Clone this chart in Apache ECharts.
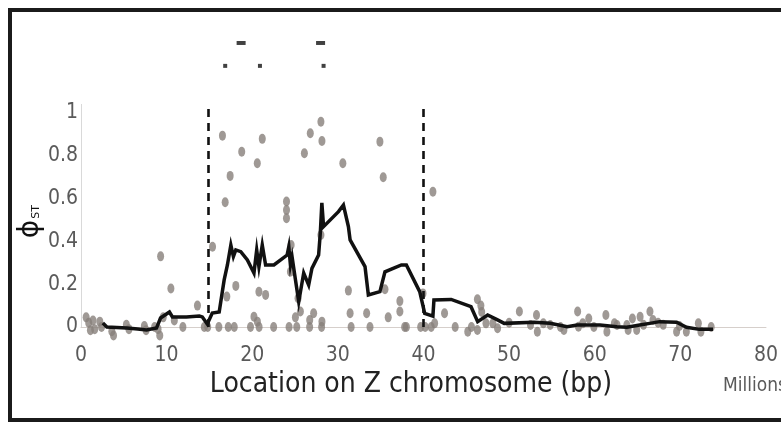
<!DOCTYPE html>
<html>
<head>
<meta charset="utf-8">
<script src="https://cdn.jsdelivr.net/npm/echarts@6/dist/echarts.min.js"></script>
<style>
html,body{margin:0;padding:0;background:#fff;}
#chart{width:781px;height:422px;}
</style>
</head>
<body>
<div id="chart"></div>
<script>
// x-axis ticks (Millions of bp)
const xMin = 0, xMax = 80, xStep = 10;
// y-axis ticks
const yMin = 0, yMax = 1.04, yStep = 0.2;

// per-SNP PhiST values [position (Mb), PhiST]
const snpPoints = [
  [0.6,0.045],[0.9,0.02],[1.1,-0.015],[1.4,0.03],[1.6,-0.01],[2.2,0.025],[2.4,0.0],
  [3.6,-0.02],[3.8,-0.04],[5.3,0.01],[5.6,-0.01],[7.4,0.005],[7.6,-0.015],[8.6,0.0],
  [9.0,-0.01],[9.2,-0.04],[9.6,0.045],[9.3,0.33],[10.5,0.18],[10.9,0.03],[11.9,0.0],
  [13.6,0.1],[14.4,0.0],
  [15.36,0.375],[14.8,0.0],[16.1,0.0],[16.52,0.894],[17.42,0.706],[16.84,0.583],
  [17.03,0.142],[17.2,0.0],[17.9,0.0],[18.08,0.192],[18.77,0.819],[19.8,0.0],
  [20.2,0.048],[20.59,0.765],[20.6,0.025],[20.78,0.165],[20.8,0.0],[21.17,0.879],
  [21.56,0.15],[22.5,0.0],[24.0,0.586],[24.0,0.547],[24.0,0.508],[24.54,0.383],
  [24.46,0.258],[24.3,0.0],[25.04,0.045],[25.2,0.0],[25.35,0.134],[25.62,0.072],
  [26.09,0.812],[26.71,0.033],[26.7,0.0],[26.78,0.905],[27.17,0.064],[28.02,0.959],
  [28.14,0.869],[28.02,0.43],[28.14,0.025],[28.1,0.0],[30.58,0.765],
  [31.23,0.17],[31.43,0.064],[31.55,0.0],[33.36,0.064],[33.75,0.0],[34.91,0.866],
  [35.3,0.70],[35.5,0.176],[35.88,0.045],[37.24,0.121],[37.24,0.072],[37.8,0.0],
  [38.0,0.0],[39.67,0.0],[39.94,0.157],[40.2,0.0],[40.9,0.0],[41.1,0.632],[41.3,0.017],
  [42.46,0.064],[43.7,0.0],[45.17,-0.022],[45.6,0.0],[46.3,0.13],[46.7,0.10],
  [46.8,0.07],[46.3,-0.014],[47.3,0.017],[48.1,0.017],[48.65,-0.006],
  [50.0,0.02],[51.2,0.072],[52.5,0.009],[53.2,0.056],[53.3,-0.022],[54.0,0.017],
  [54.8,0.009],[56.0,0.0],[56.4,-0.014],[58.0,0.072],[58.1,0.001],[58.6,0.017],
  [59.3,0.04],[59.9,0.0],[61.3,0.056],[61.42,-0.022],[62.3,0.017],[62.6,0.009],
  [63.75,0.009],[63.9,-0.014],[64.4,0.04],[64.9,-0.014],[65.3,0.048],[65.7,0.01],
  [66.45,0.072],[66.8,0.033],[67.4,0.02],[68.0,0.01],[69.56,-0.022],[69.9,0.005],
  [70.7,-0.022],[72.1,0.017],[72.4,-0.022],[73.6,0.0]
];

// sliding-window average [position (Mb), PhiST]
const avgLine = [
  [2.55,0.019],[3.02,0.0],[5.34,-0.005],[6.62,-0.009],[7.66,-0.014],[8.82,-0.005],
  [9.29,0.042],[10.33,0.070],[10.68,0.047],[12.31,0.047],[13.82,0.051],[14.17,0.047],
  [14.75,0.014],[15.33,0.065],[16.14,0.070],[16.72,0.22],[17.10,0.29],[17.50,0.383],
  [17.80,0.329],[18.08,0.36],[18.66,0.352],[19.43,0.313],[20.20,0.252],[20.52,0.36],
  [20.78,0.282],[21.17,0.383],[21.56,0.29],[22.53,0.29],[24.07,0.336],[24.27,0.375],
  [24.46,0.29],[24.65,0.328],[25.05,0.22],[25.43,0.118],[26.01,0.252],[26.59,0.196],
  [26.97,0.274],[27.75,0.336],[27.95,0.44],[28.13,0.58],[28.33,0.469],[30.07,0.539],
  [30.65,0.570],[31.23,0.469],[31.43,0.407],[33.17,0.282],[33.56,0.150],[34.91,0.165],
  [35.50,0.258],[36.46,0.274],[37.42,0.29],[38.0,0.29],[39.56,0.165],[40.14,0.064],
  [41.10,0.051],[41.22,0.126],[43.23,0.129],[45.55,0.095],[46.33,0.025],[47.49,0.056],
  [48.65,0.033],[49.43,0.017],[52.91,0.022],[54.80,0.017],[56.78,0.001],[57.94,0.009],
  [60.61,0.009],[62.59,0.001],[63.75,-0.001],[65.26,0.009],[66.42,0.017],[67.58,0.025],
  [69.56,0.022],[70.72,-0.001],[72.22,-0.011],[73.81,-0.011]
];

// boundaries of the differentiated region (Mb)
const boundaries = [14.85, 40.0];
const boundaryTop = 1.04;

// significance markers above the plot
const sigDashes = [[18.7,1.327],[27.98,1.327]];
const sigDots = [[16.84,1.22],[20.9,1.22],[28.33,1.22]];

const labelFont = "'Liberation Sans Narrow','DejaVu Sans Condensed',sans-serif";

const chart = echarts.init(document.getElementById('chart'), null, {renderer:'canvas'});
chart.setOption({
  animation: false,
  backgroundColor: '#ffffff',
  grid: {left: 81, right: 11, top: 104.4, bottom: 95, containLabel: false},
  xAxis: {
    type: 'value', min: xMin, max: xMax, interval: xStep,
    splitLine: {show: false},
    axisTick: {show: false},
    axisLine: {show: true, lineStyle: {color: '#d6cfcb', width: 1}},
    axisLabel: {fontFamily: labelFont, fontSize: 21, color: '#5a5a5a', margin: 18},
    name: 'Location on Z chromosome (bp)',
    nameLocation: 'middle',
    nameGap: 44,
    nameMoveOverlap: false,
    nameTextStyle: {fontFamily: labelFont, fontSize: 28, color: '#222', padding: [0, 25, 0, 0]}
  },
  yAxis: {
    type: 'value', min: yMin, max: yMax, interval: yStep,
    splitLine: {show: false},
    axisTick: {show: false},
    axisLine: {show: true, lineStyle: {color: '#d9d9d9', width: 1}},
    axisLabel: {
      fontFamily: labelFont, fontSize: 21, color: '#5a5a5a', margin: 3,
      formatter: function (v) {
        const k = v / yStep;
        return Math.abs(k - Math.round(k)) < 1e-6 ? String(Math.round(v * 10) / 10) : '';
      }
    },
    name: '{a|ϕ}{b|ST}',
    nameLocation: 'middle',
    nameGap: 36,
    nameRotate: 90,
    nameMoveOverlap: false,
    nameTextStyle: {
      color: '#111',
      padding: [0, 12, 0, 0],
      rich: {
        a: {fontFamily: 'DejaVu Sans', fontSize: 28, color: '#111'},
        b: {fontFamily: 'DejaVu Sans', fontSize: 11, color: '#111', padding: [10, 0, 0, 1]}
      }
    }
  },
  graphic: [
    {type: 'rect', shape: {x: 10, y: 10, width: 800, height: 410}, style: {fill: 'none', stroke: '#1b1b1b', lineWidth: 4}, z: 100},
    {type: 'text', left: 723, top: 377, style: {text: 'Millions', fontFamily: labelFont, fontSize: 19, fill: '#5a5a5a'}}
  ],
  series: [
    {
      type: 'scatter',
      data: snpPoints,
      clip: false,
      symbol: 'circle',
      symbolSize: [7, 10],
      itemStyle: {color: '#877f7a'},
      z: 2,
      markLine: {
        silent: true,
        symbol: 'none',
        label: {show: false},
        lineStyle: {color: '#111', width: 2.6, type: [8, 6]},
        data: boundaries.map(b => [{coord: [b, 0]}, {coord: [b, boundaryTop]}])
      }
    },
    {
      type: 'line',
      data: avgLine,
      clip: false,
      showSymbol: false,
      symbol: 'none',
      lineStyle: {color: '#111', width: 3.5, join: 'miter'},
      z: 3
    },
    {
      type: 'scatter', data: sigDashes, clip: false, symbol: 'rect', symbolSize: [9, 4],
      itemStyle: {color: '#111'}, z: 4
    },
    {
      type: 'scatter', data: sigDots, clip: false, symbol: 'rect', symbolSize: [4, 4],
      itemStyle: {color: '#111'}, z: 4
    }
  ]
});
</script>
</body>
</html>
